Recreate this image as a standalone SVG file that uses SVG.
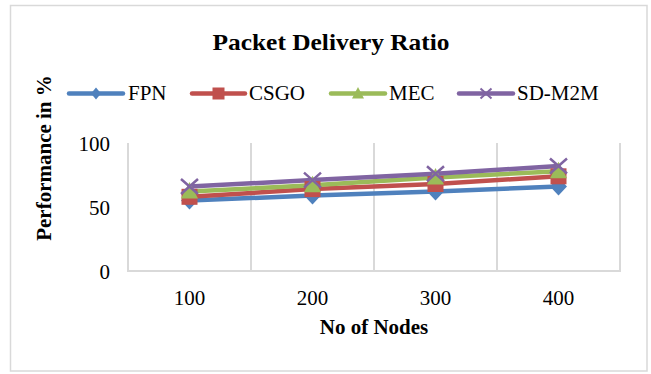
<svg xmlns="http://www.w3.org/2000/svg" width="651" height="374" viewBox="0 0 651 374">
  <style>
    .txt { font-family: "Liberation Serif", "Times New Roman", serif; fill: #000; }
    .bold { font-weight: bold; }
    .grid { stroke: #d9d9d9; stroke-width: 2; fill: none; }
    .series { fill: none; stroke-width: 4.5; stroke-linecap: round; stroke-linejoin: round; }
    .fpn { stroke: #4f81bd; }
    .csgo { stroke: #c0504d; }
    .mec { stroke: #9bbb59; }
    .sdm { stroke: #8064a2; }
  </style>
  <defs>
    <path id="mk-diamond" d="M0,-9 L8.5,0 L0,9 L-8.5,0 Z" fill="#4f81bd"/>
    <rect id="mk-square" x="-8" y="-8" width="16" height="16" fill="#c0504d"/>
    <path id="mk-triangle" d="M0,-9.5 L8.5,7 L-8.5,7 Z" fill="#9bbb59"/>
    <path id="mk-x" d="M-8.5,-7.5 L8.5,7.5 M-8.5,7.5 L8.5,-7.5" stroke="#8064a2" stroke-width="2.5" fill="none"/>
    <path id="lg-diamond" d="M0,-6 L5,0 L0,6 L-5,0 Z" fill="#4f81bd"/>
    <rect id="lg-square" x="-6" y="-6" width="12" height="12" fill="#c0504d"/>
    <path id="lg-triangle" d="M0,-6.5 L6,5 L-6,5 Z" fill="#9bbb59"/>
    <path id="lg-x" d="M-5.5,-5 L5.5,5 M-5.5,5 L5.5,-5" stroke="#8064a2" stroke-width="2" fill="none"/>
  </defs>

  <!-- chart frame -->
  <rect x="0" y="0" width="651" height="374" fill="#ffffff"/>
  <rect x="10.5" y="5.5" width="636.5" height="365.5" fill="#ffffff" stroke="#d9d9d9" stroke-width="1.5"/>

  <!-- title -->
  <text class="txt bold" x="212.5" y="49.5" font-size="24" textLength="237" lengthAdjust="spacingAndGlyphs">Packet Delivery Ratio</text>

  <!-- legend -->
  <g id="legend">
    <g id="legend-fpn">
      <line class="series fpn" x1="69" y1="93.5" x2="123" y2="93.5"/>
      <use href="#lg-diamond" x="96" y="93.5"/>
      <text class="txt" x="128" y="100" font-size="21">FPN</text>
    </g>
    <g id="legend-csgo">
      <line class="series csgo" x1="192" y1="93.5" x2="245" y2="93.5"/>
      <use href="#lg-square" x="218.5" y="93.5"/>
      <text class="txt" x="249" y="100" font-size="21">CSGO</text>
    </g>
    <g id="legend-mec">
      <line class="series mec" x1="331" y1="93.5" x2="385" y2="93.5"/>
      <use href="#lg-triangle" x="358" y="93.5"/>
      <text class="txt" x="389" y="100" font-size="21">MEC</text>
    </g>
    <g id="legend-sdm2m">
      <line class="series sdm" x1="459" y1="93.5" x2="513" y2="93.5"/>
      <use href="#lg-x" x="486" y="93.5"/>
      <text class="txt" x="517" y="100" font-size="21">SD-M2M</text>
    </g>
  </g>

  <!-- plot area: category separators and axis -->
  <g id="axes">
    <line class="grid" x1="128" y1="143" x2="128" y2="271"/>
    <line class="grid" x1="251" y1="143" x2="251" y2="271"/>
    <line class="grid" x1="374" y1="143" x2="374" y2="271"/>
    <line class="grid" x1="497" y1="143" x2="497" y2="271"/>
    <line class="grid" x1="620" y1="143" x2="620" y2="271"/>
    <line class="grid" x1="127" y1="271" x2="621" y2="271"/>
  </g>

  <!-- value axis labels -->
  <g id="y-labels" class="txt" font-size="21" text-anchor="end">
    <text x="110" y="150.5">100</text>
    <text x="110" y="214.5">50</text>
    <text x="110" y="278.5">0</text>
  </g>

  <!-- category axis labels -->
  <g id="x-labels" class="txt" font-size="21" text-anchor="middle">
    <text x="189.5" y="305">100</text>
    <text x="312.5" y="305">200</text>
    <text x="435.5" y="305">300</text>
    <text x="558.5" y="305">400</text>
  </g>

  <!-- axis titles -->
  <text class="txt bold" x="374" y="334" font-size="21" text-anchor="middle">No of Nodes</text>
  <text class="txt bold" transform="translate(51,158) rotate(-90)" font-size="21" text-anchor="middle">Performance in %</text>

  <!-- series lines -->
  <g id="connectors">
    <polyline class="series fpn" points="189.5,200.6 312.5,195.5 435.5,191.6 558.5,186.5"/>
    <polyline class="series csgo" points="189.5,196.8 312.5,189.1 435.5,184 558.5,176.3"/>
    <polyline class="series mec" points="189.5,191.6 312.5,185.2 435.5,177.6 558.5,171.2"/>
    <polyline class="series sdm" points="189.5,186.5 312.5,180.1 435.5,173.7 558.5,166"/>
  </g>

  <!-- data point markers -->
  <g id="markers-fpn">
    <use href="#mk-diamond" x="189.5" y="200.6"/>
    <use href="#mk-diamond" x="312.5" y="195.5"/>
    <use href="#mk-diamond" x="435.5" y="191.6"/>
    <use href="#mk-diamond" x="558.5" y="186.5"/>
  </g>
  <g id="markers-csgo">
    <use href="#mk-square" x="189.5" y="196.8"/>
    <use href="#mk-square" x="312.5" y="189.1"/>
    <use href="#mk-square" x="435.5" y="184"/>
    <use href="#mk-square" x="558.5" y="176.3"/>
  </g>
  <g id="markers-mec">
    <use href="#mk-triangle" x="189.5" y="191.6"/>
    <use href="#mk-triangle" x="312.5" y="185.2"/>
    <use href="#mk-triangle" x="435.5" y="177.6"/>
    <use href="#mk-triangle" x="558.5" y="171.2"/>
  </g>
  <g id="markers-sdm2m">
    <use href="#mk-x" x="189.5" y="186.5"/>
    <use href="#mk-x" x="312.5" y="180.1"/>
    <use href="#mk-x" x="435.5" y="173.7"/>
    <use href="#mk-x" x="558.5" y="166"/>
  </g>
</svg>
